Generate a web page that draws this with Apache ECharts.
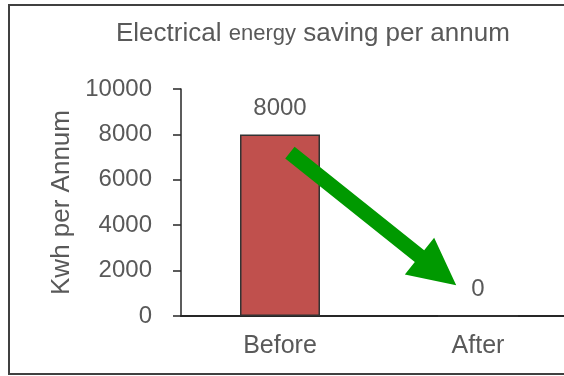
<!DOCTYPE html>
<html>
<head>
<meta charset="utf-8">
<script src="https://cdn.jsdelivr.net/npm/echarts@6/dist/echarts.min.js"></script>
<style>
  html, body { margin: 0; padding: 0; background: #ffffff; overflow: hidden; }
  #chart { width: 600px; height: 376px; }
</style>
</head>
<body>
<div id="chart"></div>
<script>
// Annual electrical energy use before and after the change
const categories = ['Before', 'After'];
const kwhValues = [8000, 0];
const yTicks = { min: 0, max: 10000, interval: 2000 };

const textGray = '#595959';
const axisDark = '#262626';
const font = '"Liberation Sans", Arial, sans-serif';

const chart = echarts.init(document.getElementById('chart'), null, { renderer: 'canvas' });

chart.setOption({
  animation: false,
  backgroundColor: '#ffffff',
  title: {
    text: '{a|Electrical }{b|energy}{a| saving per annum}',
    left: 111,
    top: 16,
    textStyle: {
      fontWeight: 'normal',
      rich: {
        a: { fontFamily: font, fontSize: 26, fontWeight: 'normal', color: textGray },
        b: { fontFamily: font, fontSize: 22, fontWeight: 'normal', color: textGray }
      }
    }
  },
  grid: { left: 181, top: 89, width: 396, height: 227 },
  xAxis: {
    type: 'category',
    data: categories,
    axisLine: { lineStyle: { color: axisDark, width: 2 } },
    axisTick: { show: false },
    axisLabel: { color: textGray, fontFamily: font, fontSize: 25, margin: 18 }
  },
  yAxis: {
    type: 'value',
    min: yTicks.min,
    max: yTicks.max,
    interval: yTicks.interval,
    name: 'Kwh per Annum',
    nameLocation: 'middle',
    nameGap: 101,
    nameTextStyle: { color: textGray, fontFamily: font, fontSize: 26 },
    axisLine: { show: true, lineStyle: { color: axisDark, width: 1.5 } },
    axisTick: { show: true, length: 8, lineStyle: { color: axisDark, width: 1.5 } },
    splitLine: { show: false },
    axisLabel: {
      color: textGray, fontFamily: font, fontSize: 24, margin: 29,
      formatter: (v) => String(v)
    }
  },
  series: [{
    type: 'bar',
    data: kwhValues,
    barWidth: 80,
    itemStyle: { color: '#C0504D', borderColor: '#333333', borderWidth: 1.5 },
    label: {
      show: true,
      position: 'top',
      distance: 14,
      color: textGray,
      fontFamily: font,
      fontSize: 24
    }
  }]
});

// Green arrow pointing from the "Before" bar down towards the "After" value
function arrowPolygon(start, tip, shaftW, headW, headL) {
  const dx = tip[0] - start[0], dy = tip[1] - start[1];
  const len = Math.hypot(dx, dy);
  const ux = dx / len, uy = dy / len;
  const nx = -uy, ny = ux;
  const bx = tip[0] - ux * headL, by = tip[1] - uy * headL;
  const s = shaftW / 2, h = headW / 2;
  return [
    [start[0] + nx * s, start[1] + ny * s],
    [bx + nx * s, by + ny * s],
    [bx + nx * h, by + ny * h],
    tip,
    [bx - nx * h, by - ny * h],
    [bx - nx * s, by - ny * s],
    [start[0] - nx * s, start[1] - ny * s]
  ];
}

const beforePx = chart.convertToPixel({ seriesIndex: 0 }, [categories[0], 7200]);
const afterPx = chart.convertToPixel({ seriesIndex: 0 }, [categories[1], 1350]);
const span = afterPx[0] - beforePx[0];
const arrowStart = [beforePx[0] + span * 0.05, beforePx[1]];
const arrowTip = [beforePx[0] + span * 0.89, afterPx[1]];

chart.setOption({
  graphic: [
    {
      type: 'rect',
      shape: { x: 9, y: 5, width: 620, height: 369 },
      style: { fill: 'none', stroke: '#404040', lineWidth: 2 },
      silent: true,
      z: 100
    },
    {
      type: 'polygon',
      shape: { points: arrowPolygon(arrowStart, arrowTip, 15, 47, 47) },
      style: { fill: '#009900' },
      silent: true,
      z: 50
    }
  ]
});
</script>
</body>
</html>
